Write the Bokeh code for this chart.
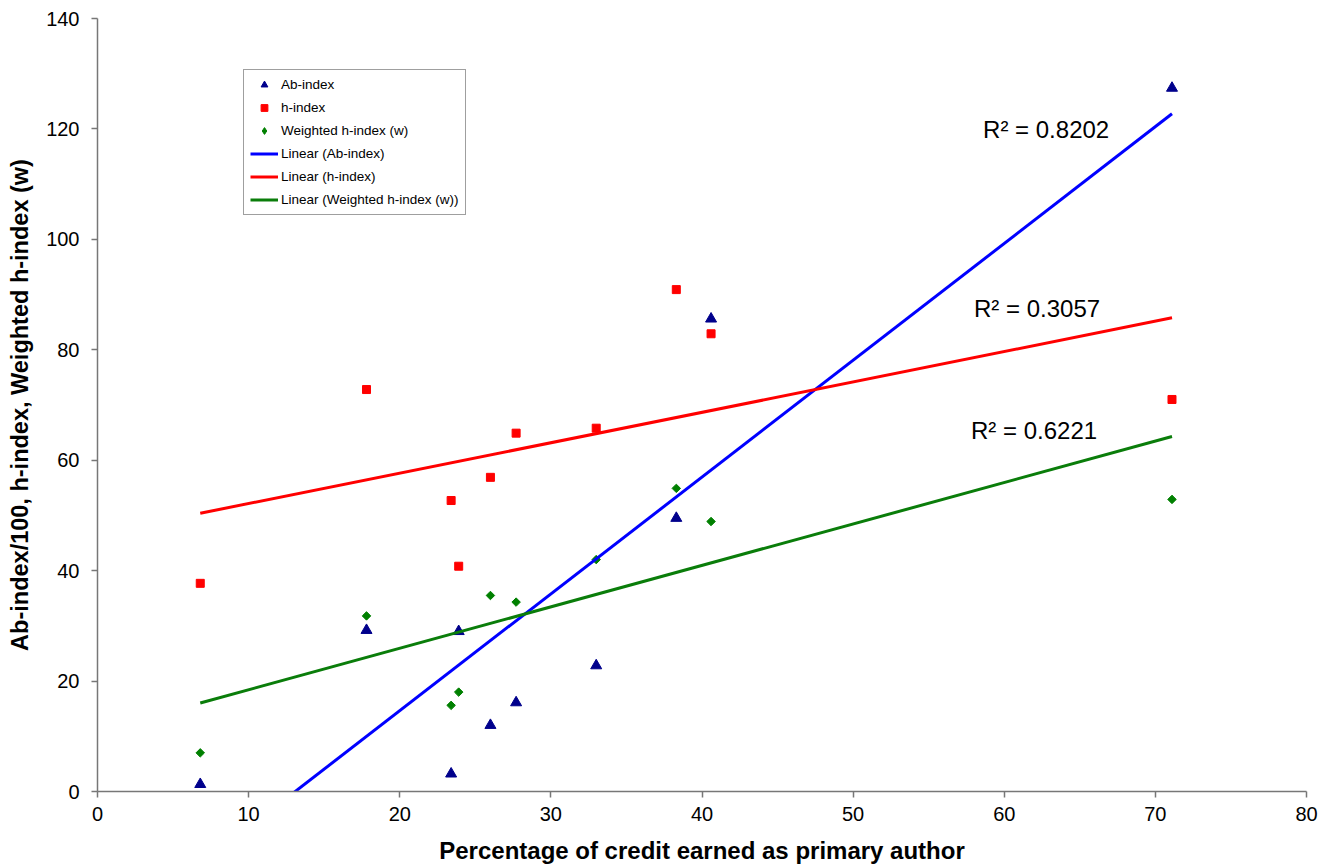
import numpy as np
from bokeh.plotting import figure
from bokeh.models import Range1d, FixedTicker, Legend, LegendItem
from bokeh.core.properties import value
from bokeh.embed import file_html
from bokeh.resources import INLINE

# ---- data ----
credit_pct = [6.8, 17.8, 23.4, 23.9, 26.0, 27.7, 33.0, 38.3, 40.6, 71.1]
ab_index = [1.3, 29.2, 3.2, 29.0, 12.0, 16.1, 22.8, 49.5, 85.6, 127.4]
h_index = [37.7, 72.8, 52.7, 40.8, 56.9, 64.9, 65.8, 90.9, 82.9, 71.0]
weighted_h = [7.0, 31.8, 15.6, 18.0, 35.5, 34.3, 42.0, 54.9, 48.9, 52.9]

r2_labels = ["R² = 0.8202", "R² = 0.3057", "R² = 0.6221"]
r2_x = [58.6, 58.0, 57.8]
r2_y = [119.9, 87.5, 65.3]

x_ticks = [0, 10, 20, 30, 40, 50, 60, 70, 80]
y_ticks = [0, 20, 40, 60, 80, 100, 120, 140]

FONT = "Liberation Sans"
AXIS_GRAY = "#777777"

p = figure(width=1332, height=866, output_backend="svg", toolbar_location=None,
           x_range=Range1d(0, 80), y_range=Range1d(0, 140),
           min_border_left=97, min_border_right=26, min_border_top=18, min_border_bottom=75)
p.outline_line_color = None
p.xgrid.visible = False
p.ygrid.visible = False
p.background_fill_color = "white"
p.border_fill_color = "white"

for ax, ticks in ((p.xaxis[0], x_ticks), (p.yaxis[0], y_ticks)):
    ax.ticker = FixedTicker(ticks=ticks)
    ax.axis_line_color = AXIS_GRAY
    ax.axis_line_width = 1.5
    ax.major_tick_line_color = AXIS_GRAY
    ax.major_tick_line_width = 1.5
    ax.major_tick_in = 0
    ax.major_tick_out = 6
    ax.minor_tick_line_color = None
    ax.major_label_text_font = FONT
    ax.major_label_text_font_size = "20px"
    ax.major_label_text_color = "black"
    ax.axis_label_text_font = FONT
    ax.axis_label_text_font_style = "bold"
    ax.axis_label_text_color = "black"

p.xaxis.axis_label = "Percentage of credit earned as primary author"
p.yaxis.axis_label = "Ab-index/100, h-index, Weighted h-index (w)"
p.xaxis.axis_label_text_font_size = "24px"
p.yaxis.axis_label_text_font_size = "23.5px"
p.xaxis.major_label_standoff = 9
p.xaxis.axis_label_standoff = 13
p.yaxis.major_label_standoff = 12
p.yaxis.axis_label_standoff = 10

# ---- trendlines (least squares fits of the series) ----
xs = np.array(credit_pct)
xl = np.array([xs.min(), xs.max()])
fits = {}
for name, ys in (("ab", ab_index), ("h", h_index), ("w", weighted_h)):
    m, b = np.polyfit(xs, np.array(ys), 1)
    fits[name] = m * xl + b

# ---- scatter markers ----
tri = p.scatter(credit_pct, ab_index, marker="triangle", size=11,
                fill_color="#00008c", line_color="#00008c")
sq = p.scatter(credit_pct, h_index, marker="square", size=8,
               fill_color="#ff0000", line_color="#ff0000")
dia = p.scatter(credit_pct, weighted_h, marker="square", angle=np.pi / 4, size=6,
                fill_color="#008000", line_color="#008000")
# legend-only swatch for the diamond (no visible points)
dia_key = p.scatter([np.nan], [np.nan], marker="diamond", size=11,
                    fill_color="#008000", line_color="#008000")

l_ab = p.line(xl, fits["ab"], line_color="#0000ff", line_width=3)
l_h = p.line(xl, fits["h"], line_color="#ff0000", line_width=3)
l_w = p.line(xl, fits["w"], line_color="#0a7d0a", line_width=3)

p.text(x=r2_x, y=r2_y, text=r2_labels, text_font=value(FONT), text_font_size="24px",
       text_color="black", text_align="left", text_baseline="middle")

legend = Legend(items=[
    LegendItem(label="Ab-index", renderers=[tri]),
    LegendItem(label="h-index", renderers=[sq]),
    LegendItem(label="Weighted h-index (w)", renderers=[dia_key]),
    LegendItem(label="Linear (Ab-index)", renderers=[l_ab]),
    LegendItem(label="Linear (h-index)", renderers=[l_h]),
    LegendItem(label="Linear (Weighted h-index (w))", renderers=[l_w]),
], location=(146, 576))
legend.label_text_font = FONT
legend.label_text_font_size = "13.5px"
legend.label_text_color = "black"
legend.glyph_width = 28
legend.glyph_height = 17
legend.label_height = 17
legend.label_standoff = 3
legend.spacing = 6
legend.padding = 6
legend.margin = 0
legend.border_line_color = "#404040"
legend.border_line_width = 1
legend.background_fill_color = "white"
legend.background_fill_alpha = 1
p.add_layout(legend)

open("out.html", "w").write(file_html(p, INLINE))
